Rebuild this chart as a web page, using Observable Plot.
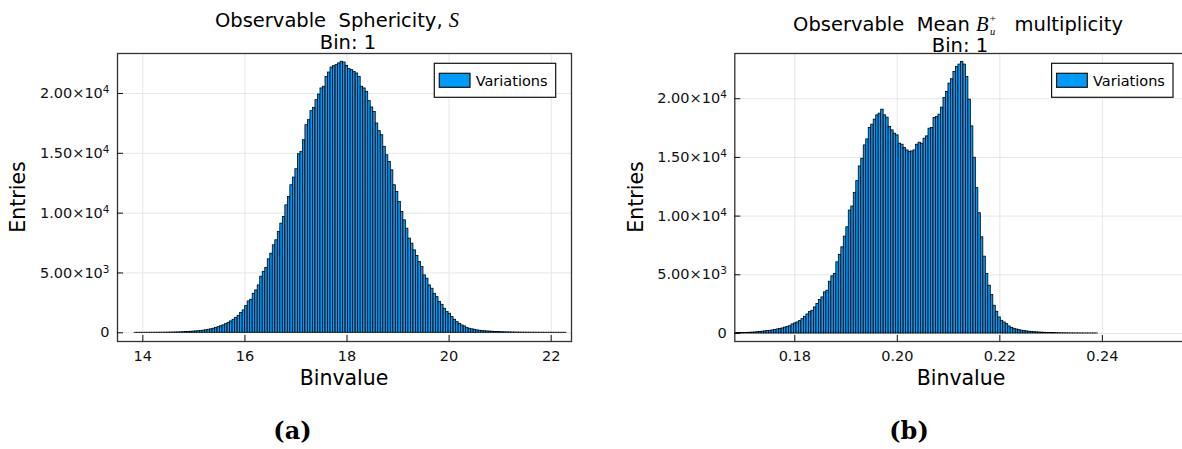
<!DOCTYPE html>
<html><head><meta charset="utf-8">
<script src="https://cdn.jsdelivr.net/npm/d3@7"></script>
<script src="https://cdn.jsdelivr.net/npm/@observablehq/plot@0.6"></script>
<style>
html,body{margin:0;padding:0;background:#fff;}
#root{position:relative;width:1182px;height:449px;overflow:hidden;background:#fff;font-family:"DejaVu Sans",sans-serif;}
#root svg{position:absolute;top:0;}
</style></head>
<body><div id="root"></div>
<script>
// ---- data: panel (a) Sphericity ----
const sphLo = 13.84;
const sphBinWidth = 0.0492;
const sphCounts = [
  1,1,2,2,3,3,4,5,6,7, 9,11,13,16,20,24,29,35,42,50,
  60,72,85,100,115,130,150,180,210,250, 290,340,400,470,540,620,720,830,950,1090,
  1250,1420,1650,1870,
  2230,2620,2760,3260,3540,3960,4690,5080,5410,
  6140,6610,7310,7730,8420,9120,9680,10650,11350,12330,
  12970,13670,14920,15120,16090,17350,17770,18520,18800,19440,
  19910,20420,20560,21390,21750,22170,22280,22370,22510,22650,
  22590,22310,22030,21950,21810,21670,21390,20560,20420,20140,
  19360,18830,18460,17490,16850,16510,15540,14840,14280,13580,
  12330,11770,10930,10100,9400,8700,7870,7450,6890,6420,
  5910,5490,4800,4520,3960,3680,3260,2980,2570,2340,
  2010,1730,1590,1310,1090,890,750,610,530,390,
  335,290,250,200,170,145,125,112,100,
  88,76,66,57,49,42,36,31,27,23, 20,17,14,12,10,9,8,7,6,5, 4,4,3,3,2,2,2,1,1,1
];
const sphXTicks = [14, 16, 18, 20, 22];
const sphXDomain = [13.504, 22.398];
const sphYDomain = [-728, 23340];

// ---- data: panel (b) Mean B_u^+ multiplicity ----
const mulLo = 0.16575;
const mulBinWidth = 0.000486;
const mulCounts = [
  15,17,19,22,25,30,34,38,42,48, 55,63,75,88,110,135,155,180,205,230,
  260,300,345,385,430,500,560,620,770,
  854,939,1053,1224,1423,1622,1821,1935,2220,2504,
  2846,3074,3501,3643,4411,4867,5066,6062,6688,7343,
  8253,9050,10473,10815,11982,12978,14230,14885,16023,16535,
  17503,17788,18214,18584,18727,19068,18584,18385,17588,17304,
  17019,16877,16165,16080,15795,15596,15454,15511,15596,16080,
  16251,16165,16592,16791,17446,17503,18357,18442,18641,19239,
  20064,20576,21288,21658,22284,22711,22910,23138,22910,21857,
  19922,17645,14970,12380,10246,8196,6546,5066,4070,3273,
  2362,1850,1366,1081,939,797,598,480,400,340,
  285,240,205,175,
  150,128,110,
  95,82,70,60,52,45,38,33,28,24,20,17,14,12,10,8,7,6,5,4,3,3,2,2,1
];
const mulXTicks = [0.18, 0.20, 0.22, 0.24];
const mulXDomain = [0.1683, 0.2568];
const mulYDomain = [-683, 23852];

const yTicks = [0, 5000, 10000, 15000, 20000];
const legendLabel = "Variations";
const yLabel = "Entries";
const xLabel = "Binvalue";
const binLine = "Bin: 1";

const barFill = "#009af9";
const NB = "\u00a0";

function yFmt(d) {
  if (d === 0) return "0";
  const e = Math.floor(Math.log10(d));
  return (d / Math.pow(10, e)).toFixed(2) + "×10^" + e;
}

function supTicks(svg) {
  d3.select(svg).selectAll('g[aria-label="y-axis tick label"] text').each(function () {
    const parts = this.textContent.split("^");
    if (parts.length === 2) {
      const s = d3.select(this);
      s.text(parts[0]);
      s.append("tspan").attr("dy", "-0.48em").attr("font-size", "0.72em").text(parts[1]);
    }
  });
}

const root = document.getElementById("root");

function panel({counts, lo, w, xDomain, yDomain, xTicks, xFormat, left, svgWidth, marginLeft, marginRight}) {
  const bins = counts.map((c, i) => ({x1: lo + i * w, x2: lo + (i + 1) * w, y: c}));
  const svg = Plot.plot({
    width: svgWidth, height: 400,
    marginLeft, marginRight, marginTop: 53, marginBottom: 59,
    style: {fontFamily: "DejaVu Sans", fontSize: "14.5px", color: "#111", background: "transparent", overflow: "visible"},
    x: {domain: xDomain, label: null},
    y: {domain: yDomain, label: null},
    marks: [
      Plot.gridX(xTicks, {stroke: "#e6e6e6", strokeOpacity: 1, strokeWidth: 1}),
      Plot.gridY(yTicks, {stroke: "#e6e6e6", strokeOpacity: 1, strokeWidth: 1}),
      Plot.rectY(bins, {x1: "x1", x2: "x2", y: "y", fill: barFill, stroke: "#000", strokeWidth: 0.8, clip: true}),
      Plot.frame({stroke: "#333", strokeWidth: 1.3}),
      Plot.axisX(xTicks, {anchor: "bottom", tickSize: -6, tickPadding: 15, tickFormat: xFormat, fontSize: 14.5, label: null}),
      Plot.axisY(yTicks, {anchor: "left", tickSize: -6, tickPadding: 14, tickFormat: yFmt, fontSize: 14.5, label: null})
    ]
  });
  svg.style.left = left + "px";
  supTicks(svg);
  root.appendChild(svg);
}

panel({counts: sphCounts, lo: sphLo, w: sphBinWidth, xDomain: sphXDomain, yDomain: sphYDomain,
  xTicks: sphXTicks, xFormat: d => String(d), left: 0, svgWidth: 590, marginLeft: 117, marginRight: 19});
panel({counts: mulCounts, lo: mulLo, w: mulBinWidth, xDomain: mulXDomain, yDomain: mulYDomain,
  xTicks: mulXTicks, xFormat: d3.format(".2f"), left: 591, svgWidth: 620, marginLeft: 143.3, marginRight: 23});

// ---- overlay: titles, axis labels, legends, captions ----
const ov = d3.select(root).append("svg")
  .attr("width", 1182).attr("height", 449)
  .style("left", "0px").style("pointer-events", "none")
  .attr("font-family", "DejaVu Sans");

function legend(x0) {
  const g = ov.append("g");
  g.append("rect").attr("x", x0).attr("y", 63.3).attr("width", 121.4).attr("height", 34)
    .attr("fill", "#fff").attr("stroke", "#111").attr("stroke-width", 1.2);
  g.append("rect").attr("x", x0 + 5).attr("y", 73.3).attr("width", 30.7).attr("height", 14)
    .attr("fill", barFill).attr("stroke", "#111").attr("stroke-width", 1.2);
  g.append("text").attr("x", x0 + 41.4).attr("y", 86).attr("font-size", 14.5).attr("fill", "#000").text(legendLabel);
}
legend(434.3);
legend(1051.6);

// titles (two lines in one text element each)
const serif = "Liberation Serif";
const t1 = ov.append("text").attr("text-anchor", "middle").attr("font-size", 19.5).attr("fill", "#000");
t1.append("tspan").attr("x", 337).attr("y", 27.3).text("Observable" + NB + NB + "Sphericity," + NB);
t1.append("tspan").attr("font-family", serif).attr("font-style", "italic").attr("font-size", 20.5).text("S");
t1.append("tspan").attr("x", 348).attr("y", 49).text(binLine);

const t2 = ov.append("text").attr("text-anchor", "middle").attr("font-size", 19.5).attr("fill", "#000");
t2.append("tspan").attr("x", 958).attr("y", 30.5).text("Observable" + NB + NB + "Mean" + NB);
t2.append("tspan").attr("font-family", serif).attr("font-style", "italic").attr("font-size", 20.5).text("B");
t2.append("tspan").attr("font-family", serif).attr("font-style", "italic").attr("font-size", 10.5).attr("dx", 1.5).attr("dy", 4).text("u");
t2.append("tspan").attr("font-family", serif).attr("font-size", 11).attr("dx", -5.5).attr("dy", -12.5).text("+");
t2.append("tspan").attr("dy", 8.5).text(NB + NB + NB + "multiplicity");
t2.append("tspan").attr("x", 960).attr("y", 51.8).text(binLine);

// axis labels
[[344, 25], [961, 642.7]].forEach(([cx, ey]) => {
  ov.append("text").attr("x", cx).attr("y", 385).attr("text-anchor", "middle").attr("font-size", 20.5).attr("fill", "#000").text(xLabel);
  ov.append("text").attr("transform", `translate(${ey},197) rotate(-90)`).attr("text-anchor", "middle").attr("font-size", 20.5).attr("fill", "#000").text(yLabel);
});

// captions
[[292.5, "(a)"], [909, "(b)"]].forEach(([cx, s]) => {
  ov.append("text").attr("x", cx).attr("y", 439).attr("text-anchor", "middle")
    .attr("font-family", "DejaVu Serif").attr("font-weight", "bold").attr("font-size", 24).attr("fill", "#000").text(s);
});
</script>
</body></html>
